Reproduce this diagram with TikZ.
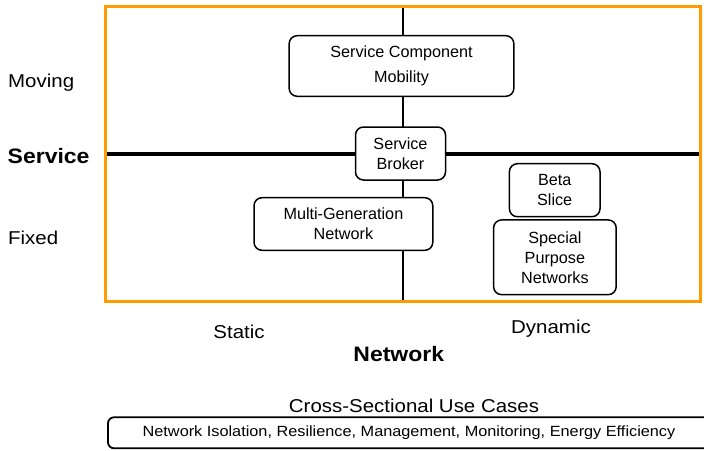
\documentclass[tikz,border=0pt]{standalone}
\usepackage{fontspec}
\setmainfont{Liberation Sans}
\newfontfamily\widefont[FakeStretch=1.1]{Liberation Sans}
\definecolor{frameorange}{RGB}{255,155,0}
\begin{document}
\begin{tikzpicture}[x=1pt,y=-1pt,
  box/.style={draw, line width=1.5pt, rounded corners=8pt, fill=white, inner sep=0pt, align=center, font=\fontsize{16.2}{20}\selectfont},
  lbl/.style={font=\widefont\fontsize{18.6}{20}\selectfont, anchor=base, inner sep=0pt},
  blbl/.style={font=\widefont\bfseries\fontsize{20.9}{22}\selectfont, anchor=base, inner sep=0pt}]
\useasboundingbox (0,0) rectangle (704,450);
\clip (0,0) rectangle (704,450);
% frame and axes
\coordinate (vtop) at (403,6.2);
\coordinate (vbot) at (403,301.2);
\coordinate (hl) at (105.5,154);
\coordinate (hr) at (700.3,154);
\draw[line width=2.6pt] (vtop) -- (vbot);
\draw[line width=3.3pt] (hl) -- (hr);
\draw[frameorange, line width=3pt] (105.5,6.2) rectangle (700.3,301.2);
% boxes
\node[box, minimum width=224.7pt, minimum height=60.6pt, font=\fontsize{16.2}{25}\selectfont] (scm) at (401.5,66) {Service Component\\Mobility};
\node[box, minimum width=90pt, minimum height=53pt] (sb) at (400.5,153.5) {Service\\Broker};
\node[box, minimum width=178.8pt, minimum height=52.6pt] (mgn) at (343.4,224) {Multi-Generation\\Network};
\node[box, minimum width=90.6pt, minimum height=53pt] (beta) at (554.7,190.2) {Beta\\Slice};
\node[box, minimum width=122.6pt, minimum height=74.7pt] (spn) at (554.9,257.3) {Special\\Purpose\\Networks};
% side labels
\node[lbl, anchor=base west] (moving) at (8,87.3) {Moving};
\node[blbl, anchor=base west] (service) at (7.5,163.3) {Service};
\node[lbl, anchor=base west] (fixed) at (8,244) {Fixed};
% bottom labels
\node[lbl] (static) at (239,338.3) {Static};
\node[lbl] (dynamic) at (551,333.3) {Dynamic};
\node[blbl] (network) at (398.8,361) {Network};
\node[lbl] (cross) at (414,412.3) {Cross-Sectional Use Cases};
\node[draw, line width=1.8pt, rounded corners=6pt, minimum width=602pt, minimum height=31pt, inner sep=0pt, font=\widefont\fontsize{14.8}{16}\selectfont] (usecases) at (409,432.8) {Network Isolation, Resilience, Management, Monitoring, Energy Efficiency};
\end{tikzpicture}
\end{document}
